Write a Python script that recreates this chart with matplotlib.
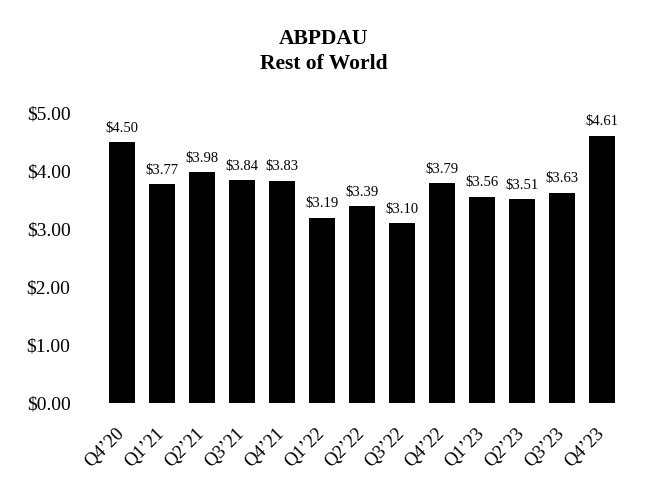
import matplotlib
matplotlib.use("Agg")
import matplotlib.pyplot as plt

quarters = ["Q4\u201920", "Q1\u201921", "Q2\u201921", "Q3\u201921", "Q4\u201921", "Q1\u201922", "Q2\u201922",
            "Q3\u201922", "Q4\u201922", "Q1\u201923", "Q2\u201923", "Q3\u201923", "Q4\u201923"]
abpdau = [4.50, 3.77, 3.98, 3.84, 3.83, 3.19, 3.39, 3.10, 3.79, 3.56, 3.51, 3.63, 4.61]
yticks = [0, 1, 2, 3, 4, 5]

plt.rcParams["font.family"] = ["Liberation Serif", "DejaVu Serif"]

fig = plt.figure(figsize=(6.52, 4.98), dpi=100)
ax = fig.add_axes([0.138, 0.191, 0.828, 0.64])

x = range(len(quarters))
bars = ax.bar(x, abpdau, width=0.65, color="black")
for b, v in zip(bars, abpdau):
    ax.text(b.get_x() + b.get_width() / 2, v + 0.13, f"${v:.2f}", ha="center", va="bottom", fontsize=10.5)

ax.set_xlim(-0.8, 12.7)
ax.set_ylim(0, 5.5)
ax.set_yticks(yticks)
ax.set_yticklabels([f"${t:.2f}" for t in yticks], fontsize=14)
ax.set_xticks(list(x))
ax.set_xticklabels(quarters, rotation=45, ha="right", va="center", rotation_mode="anchor", fontsize=13.5)
ax.tick_params(axis="x", length=0, pad=20)
ax.tick_params(axis="y", length=0, pad=14)
for s in ax.spines.values():
    s.set_visible(False)

fig.text(0.496, 0.922, "ABPDAU", ha="center", va="center", fontsize=15.5, fontweight="bold")
fig.text(0.496, 0.872, "Rest of World", ha="center", va="center", fontsize=15.5, fontweight="bold")

fig.savefig("out.png", dpi=100)
